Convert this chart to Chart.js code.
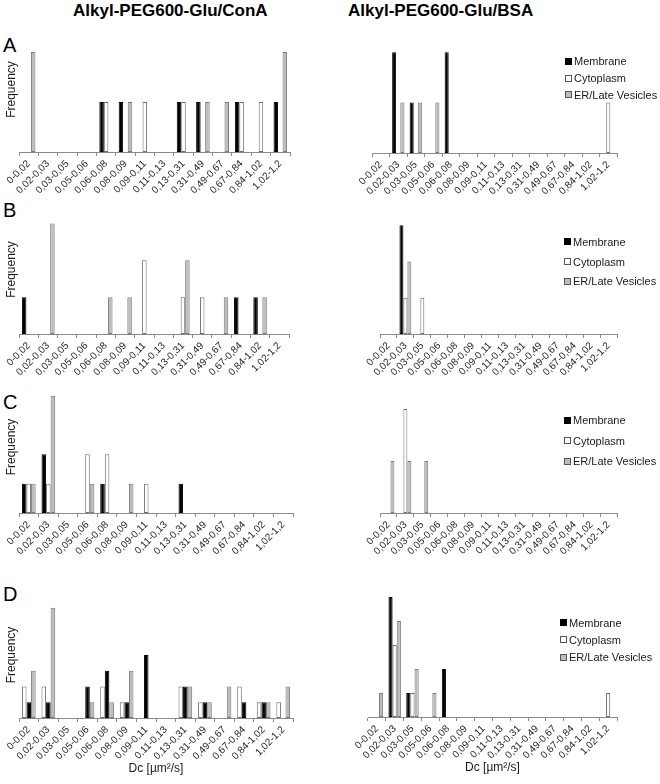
<!DOCTYPE html>
<html><head><meta charset="utf-8">
<script src="https://cdn.jsdelivr.net/npm/chart.js@4.4.1/dist/chart.umd.min.js"></script>
<style>
html,body{margin:0;padding:0;background:#fff}
body{width:660px;height:784px;position:relative;overflow:hidden;font-family:Arial,"Liberation Sans",sans-serif}
.title{position:absolute;font-weight:bold;font-size:17px;line-height:17px;color:#000;white-space:nowrap}
.letter{position:absolute;font-size:20px;line-height:20px;color:#000}
canvas{position:absolute}
.leg{position:absolute;font-size:11px;color:#1a1a1a;white-space:nowrap}
.leg div{display:flex;align-items:center;height:17px}
.leg span.box{display:inline-block;width:5px;height:5px;border:1px solid;margin-right:2px}
</style></head><body>
<div class="title" style="left:73px;top:2px">Alkyl-PEG600-Glu/ConA</div>
<div class="title" style="left:348px;top:2px">Alkyl-PEG600-Glu/BSA</div>
<div class="letter" style="left:3px;top:35px">A</div>
<div class="letter" style="left:3px;top:200px">B</div>
<div class="letter" style="left:3px;top:392px">C</div>
<div class="letter" style="left:3px;top:584px">D</div>
<script>
// ---- categories / labels ----
const categories = ['0-0,02','0,02-0,03','0,03-0,05','0,05-0,06','0,06-0,08','0,08-0,09','0,09-0,11','0,11-0,13','0,13-0,31','0,31-0,49','0,49-0,67','0,67-0,84','0,84-1,02','1,02-1,2'];
const seriesNames = ['Membrane','Cytoplasm','ER/Late Vesicles'];
const yAxisTitle = 'Frequency';
const xAxisTitle = 'Dc [µm²/s]';

// ---- Panel A ----
const A_ConA_membrane  = [0,0,0,0,1,1,0,0,1,1,0,1,0,1];
const A_ConA_cytoplasm = [0,0,0,0,1,0,1,0,1,0,0,1,1,0];
const A_ConA_er        = [2,0,0,0,0,1,0,0,0,1,1,0,0,2];
const A_BSA_membrane   = [0,2,1,0,2,0,0,0,0,0,0,0,0,0];
const A_BSA_cytoplasm  = [0,0,0,0,0,0,0,0,0,0,0,0,0,1];
const A_BSA_er         = [0,1,1,1,0,0,0,0,0,0,0,0,0,0];
// ---- Panel B ----
const B_ConA_membrane  = [1,0,0,0,0,0,0,0,0,0,0,1,1,0];
const B_ConA_cytoplasm = [0,0,0,0,0,0,2,0,1,1,0,0,0,0];
const B_ConA_er        = [0,3,0,0,1,1,0,0,2,0,1,0,1,0];
const B_BSA_membrane   = [0,3,0,0,0,0,0,0,0,0,0,0,0,0];
const B_BSA_cytoplasm  = [0,1,1,0,0,0,0,0,0,0,0,0,0,0];
const B_BSA_er         = [0,2,0,0,0,0,0,0,0,0,0,0,0,0];
// ---- Panel C ----
const C_ConA_membrane  = [1,2,0,0,1,0,0,0,1,0,0,0,0,0];
const C_ConA_cytoplasm = [1,1,0,2,2,0,1,0,0,0,0,0,0,0];
const C_ConA_er        = [1,4,0,1,0,1,0,0,0,0,0,0,0,0];
const C_BSA_membrane   = [0,0,0,0,0,0,0,0,0,0,0,0,0,0];
const C_BSA_cytoplasm  = [0,4,0,0,0,0,0,0,0,0,0,0,0,0];
const C_BSA_er         = [2,2,2,0,0,0,0,0,0,0,0,0,0,0];
// ---- Panel D ----
const D_ConA_membrane  = [1,1,0,2,3,1,4,0,2,1,0,1,1,0];
const D_ConA_cytoplasm = [2,2,0,0,2,1,0,0,2,1,0,2,1,1];
const D_ConA_er        = [3,7,0,1,1,3,0,0,2,1,2,0,1,2];
const D_BSA_membrane   = [0,5,1,0,2,0,0,0,0,0,0,0,0,0];
const D_BSA_cytoplasm  = [0,3,1,0,0,0,0,0,0,0,0,0,0,1];
const D_BSA_er         = [1,4,2,1,0,0,0,0,0,0,0,0,0,0];
// axis maxima (Excel auto scale)
const yMax = {A_ConA:2.5, A_BSA:2.5, B_ConA:3.5, B_BSA:3.5, C_ConA:4.5, C_BSA:4.5, D_ConA:8, D_BSA:6};

// ---- styles ----
const seriesStyle = {
  'Membrane':         {bg:'#000000', border:'#000000'},
  'Cytoplasm':        {bg:'#ffffff', border:'#6e6e6e'},
  'ER/Late Vesicles': {bg:'#bdbdbd', border:'#7a7a7a'}
};
const axisColor = '#8a8a8a';
const textColor = '#262626';

function ds(name, data){
  const s = seriesStyle[name];
  return {label:name, data:data, backgroundColor:s.bg, borderColor:s.border, borderWidth:1,
          borderSkipped:false, categoryPercentage:0.7, barPercentage:1.0};
}

function makeChart(geom, datasets, max, opts){
  const canvasLeft = opts.left ? 0 : 330;
  const padTop = 4;
  const xh = opts.xTitle ? 62 : 46;
  const cTop = geom.t - padTop;
  const cW = geom.r + 10 - canvasLeft;
  const cH = (geom.b - cTop) + xh;
  const cv = document.createElement('canvas');
  cv.width = cW; cv.height = cH;
  cv.style.left = canvasLeft + 'px'; cv.style.top = cTop + 'px';
  cv.style.width = cW + 'px'; cv.style.height = cH + 'px';
  document.body.appendChild(cv);
  const yW = geom.l - canvasLeft;
  return new Chart(cv.getContext('2d'), {
    type:'bar',
    data:{labels:categories, datasets:datasets},
    options:{
      responsive:false, animation:false, devicePixelRatio:1,
      layout:{padding:{left: opts.left ? 0 : yW, top:padTop, right:10, bottom:0}},
      plugins:{legend:{display:false}, tooltip:{enabled:false}},
      scales:{
        x:{
          grid:{display:true, drawOnChartArea:false, drawTicks:true, tickLength:4, color:axisColor, offset:true},
          border:{display:true, color:axisColor, width:1},
          ticks:{autoSkip:false, minRotation:45, maxRotation:45, padding:2, color:textColor,
                 font:{family:'Arial, "Liberation Sans", sans-serif', size:10}},
          title:{display:!!opts.xTitle, text:xAxisTitle, color:'#1a1a1a', padding:{top:4,bottom:4},
                 font:{family:'Arial, "Liberation Sans", sans-serif', size:12}},
          afterFit:(s)=>{ s.height = xh; s.paddingLeft = 0; s.paddingRight = 0; }
        },
        y:{
          display: !!opts.left,
          min:0, max:max,
          grid:{display:false, drawTicks:false},
          border:{display:false},
          ticks:{display:false},
          title:{display:!!opts.left, text:yAxisTitle, color:'#1a1a1a', padding:{top:4,bottom:4},
                 font:{family:'Arial, "Liberation Sans", sans-serif', size:12}},
          afterFit:(s)=>{ s.width = yW; s.paddingTop = 0; s.paddingBottom = 0; }
        }
      }
    }
  });
}

function htmlLegend(chart, x, y, gap){
  const items = Chart.defaults.plugins.legend.labels.generateLabels(chart);
  const box = document.createElement('div');
  box.className = 'leg';
  box.style.left = x + 'px'; box.style.top = y + 'px';
  items.forEach(it=>{
    const row = document.createElement('div');
    row.style.height = gap + 'px';
    const sw = document.createElement('span');
    sw.className = 'box';
    sw.style.background = it.fillStyle;
    sw.style.borderColor = it.fillStyle === '#000000' ? '#000' : '#555';
    const tx = document.createElement('span');
    tx.textContent = it.text;
    row.appendChild(sw); row.appendChild(tx);
    box.appendChild(row);
  });
  document.body.appendChild(box);
}

// Panel A
makeChart({l:19,r:290,t:27,b:152},
  [ds('Membrane',A_ConA_membrane), ds('Cytoplasm',A_ConA_cytoplasm), ds('ER/Late Vesicles',A_ConA_er)],
  yMax.A_ConA, {left:true});
const cA = makeChart({l:351,r:617,t:27,b:153},
  [ds('Membrane',A_BSA_membrane), ds('Cytoplasm',A_BSA_cytoplasm), ds('ER/Late Vesicles',A_BSA_er)],
  yMax.A_BSA, {left:false});
htmlLegend(cA, 565, 53, 16.7);
// Panel B
makeChart({l:19,r:289,t:205,b:334},
  [ds('Membrane',B_ConA_membrane), ds('Cytoplasm',B_ConA_cytoplasm), ds('ER/Late Vesicles',B_ConA_er)],
  yMax.B_ConA, {left:true});
const cB = makeChart({l:355,r:617,t:207,b:334},
  [ds('Membrane',B_BSA_membrane), ds('Cytoplasm',B_BSA_cytoplasm), ds('ER/Late Vesicles',B_BSA_er)],
  yMax.B_BSA, {left:false});
htmlLegend(cB, 564, 232, 19.7);
// Panel C
makeChart({l:19,r:293,t:381,b:513},
  [ds('Membrane',C_ConA_membrane), ds('Cytoplasm',C_ConA_cytoplasm), ds('ER/Late Vesicles',C_ConA_er)],
  yMax.C_ConA, {left:true});
const cC = makeChart({l:355,r:617,t:396,b:513},
  [ds('Membrane',C_BSA_membrane), ds('Cytoplasm',C_BSA_cytoplasm), ds('ER/Late Vesicles',C_BSA_er)],
  yMax.C_BSA, {left:false});
htmlLegend(cC, 564, 410, 20.5);
// Panel D (ConA series order: Cytoplasm, Membrane, ER)
makeChart({l:19,r:293,t:592,b:718},
  [ds('Cytoplasm',D_ConA_cytoplasm), ds('Membrane',D_ConA_membrane), ds('ER/Late Vesicles',D_ConA_er)],
  yMax.D_ConA, {left:true, xTitle:true});
const cD = makeChart({l:349,r:617,t:573,b:717},
  [ds('Membrane',D_BSA_membrane), ds('Cytoplasm',D_BSA_cytoplasm), ds('ER/Late Vesicles',D_BSA_er)],
  yMax.D_BSA, {left:false, xTitle:true});
htmlLegend(cD, 560, 614, 17.3);
</script>
</body></html>
